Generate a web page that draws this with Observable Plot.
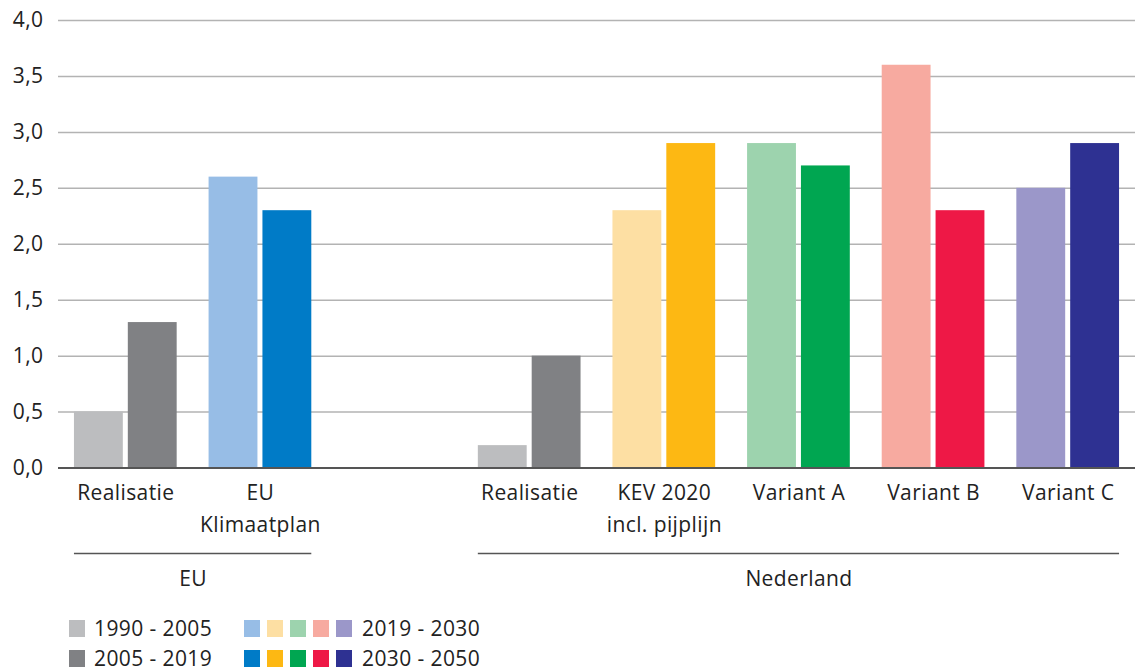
<!DOCTYPE html>
<html>
<head>
<meta charset="utf-8">
<script src="https://cdn.jsdelivr.net/npm/d3@7"></script>
<script src="https://cdn.jsdelivr.net/npm/@observablehq/plot@0.6"></script>
<style>
  body { margin: 0; background: #fff; font-family: "Open Sans", sans-serif; color: #222; }
  #legend { padding-top: 8px; padding-left: 69px; font-size: 21px; letter-spacing: 0.4px; line-height: 1.1; }
  .row { display: flex; align-items: center; height: 30.5px; }
  .sq { width: 16px; height: 17px; flex: none; margin-right: 7px; }
  .lbl1 { width: 150px; margin-left: 2px; }
  .lbl2 { margin-left: 3px; }
</style>
</head>
<body>
<div id="chart"></div>
<div id="legend"></div>
<script>
// ---- data ----
const groups = ["EU-Realisatie", "EU-Klimaatplan", "leeg", "NL-Realisatie", "KEV 2020", "Variant A", "Variant B", "Variant C"];
const groupLabels = ["Realisatie", "EU\nKlimaatplan", "", "Realisatie", "KEV 2020\nincl. pijplijn", "Variant A", "Variant B", "Variant C"];
const valuesFirst = [0.5, 2.6, null, 0.2, 2.3, 2.9, 3.6, 2.5];   // 1990-2005 / 2019-2030
const valuesSecond = [1.3, 2.3, null, 1.0, 2.9, 2.7, 2.3, 2.9];  // 2005-2019 / 2030-2050
const colorsFirst = ["#bcbdbf", "#97bde6", null, "#bcbdbf", "#fddfa3", "#9dd3ae", "#f7aaa0", "#9b97c9"];
const colorsSecond = ["#808184", "#007bc7", null, "#808184", "#fdb813", "#00a651", "#ee1846", "#2e3192"];
const regionNames = ["EU", "Nederland"];
const regionFrom = ["EU-Realisatie", "NL-Realisatie"];
const regionTo = ["EU-Klimaatplan", "Variant C"];
const yTicks = [0, 0.5, 1, 1.5, 2, 2.5, 3, 3.5, 4];
const legendRows = [
  {first: "#bcbdbf", label1: "1990 - 2005", swatches: ["#97bde6", "#fddfa3", "#9dd3ae", "#f7aaa0", "#9b97c9"], label2: "2019 - 2030"},
  {first: "#808184", label1: "2005 - 2019", swatches: ["#007bc7", "#fdb813", "#00a651", "#ee1846", "#2e3192"], label2: "2030 - 2050"}
];

// ---- build ----
const first = groups.map((g, i) => ({group: g, value: valuesFirst[i], color: colorsFirst[i]})).filter(d => d.value != null);
const second = groups.map((g, i) => ({group: g, value: valuesSecond[i], color: colorsSecond[i]})).filter(d => d.value != null);
const labelOf = new Map(groups.map((g, i) => [g, groupLabels[i]]));
const fmt = d => d.toFixed(1).replace(".", ",");

const W = 1135, H = 605, mL = 58, mR = 0, mT = 20, mB = 137.5;
const xOpts = {type: "band", domain: groups, range: [mL, W - mR], paddingInner: 0.237, paddingOuter: 0.1185, round: false};
const xScale = Plot.scale({x: xOpts});
const bw = xScale.bandwidth;
const half = bw / 2 + 2.5;

const regionMarks = regionNames.flatMap((name, i) => {
  const x0 = xScale.apply(regionFrom[i]);
  const x1 = xScale.apply(regionTo[i]) + bw;
  const centerOffset = (x1 - x0) / 2 - bw / 2;
  return [
    Plot.ruleY([0], {x1: () => regionFrom[i], x2: () => regionTo[i], dy: 85.5, stroke: "#555", strokeWidth: 1.6}),
    Plot.text([name], {x: () => regionFrom[i], y: () => 0, dx: centerOffset, dy: 111, text: d => d, fontSize: 21, fill: "#222"})
  ];
});

const chart = Plot.plot({
  width: W, height: H,
  marginLeft: mL, marginRight: mR, marginTop: mT, marginBottom: mB,
  style: {fontFamily: "'Open Sans', sans-serif", fontSize: "21px", color: "#222", background: "#fff", letterSpacing: "0.4px"},
  x: {domain: groups, paddingInner: 0.237, paddingOuter: 0.1185, round: false, axis: null},
  y: {domain: [0, 4], axis: null},
  color: {type: "identity"},
  marks: [
    Plot.gridY(yTicks, {stroke: "#b3b3b3", strokeOpacity: 1, strokeWidth: 1.5}),
    Plot.barY(first, {x: "group", y: "value", fill: "color", insetRight: half}),
    Plot.barY(second, {x: "group", y: "value", fill: "color", insetLeft: half}),
    Plot.ruleY([0], {stroke: "#555", strokeWidth: 2}),
    Plot.axisY(yTicks, {tickSize: 0, tickPadding: 15, tickFormat: fmt, fontSize: 21, label: null, fill: "#222"}),
    Plot.axisX(groups.filter(g => labelOf.get(g)), {tickSize: 0, tickPadding: 10, tickFormat: g => labelOf.get(g), fontSize: 21, lineHeight: 1.5, label: null, fill: "#222"}),
    ...regionMarks
  ]
});
document.getElementById("chart").appendChild(chart);

// ---- legend ----
const legend = d3.select("#legend");
for (const r of legendRows) {
  const row = legend.append("div").attr("class", "row");
  row.append("div").attr("class", "sq").style("background", r.first);
  row.append("div").attr("class", "lbl1").text(r.label1);
  for (const c of r.swatches) row.append("div").attr("class", "sq").style("background", c);
  row.append("div").attr("class", "lbl2").text(r.label2);
}
</script>
</body>
</html>
